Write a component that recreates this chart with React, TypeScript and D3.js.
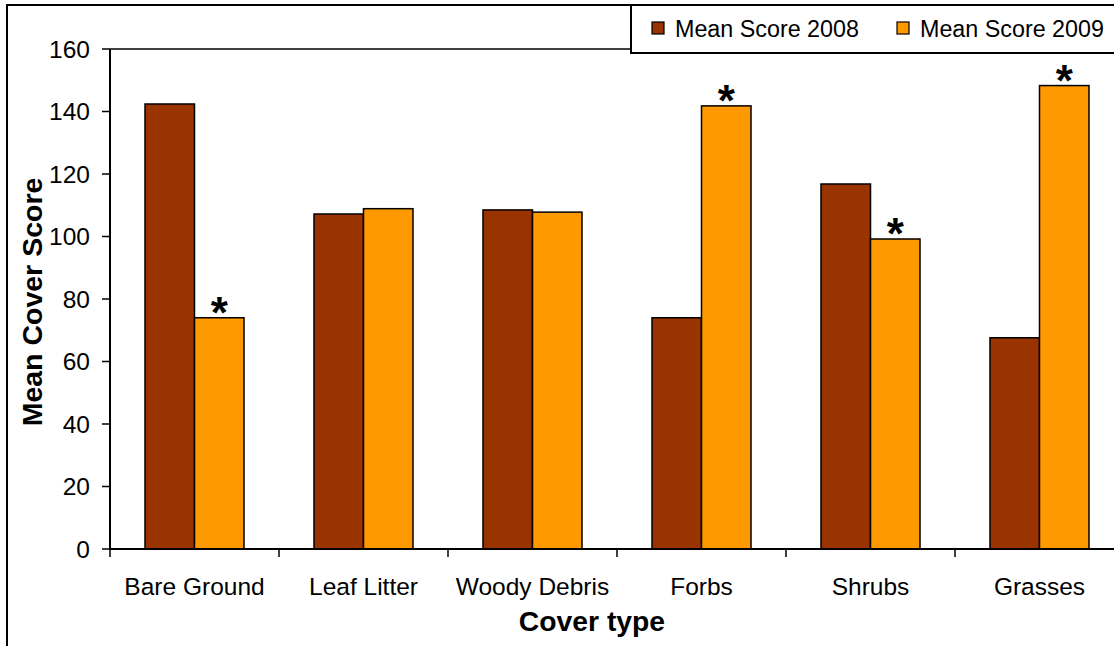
import React from "react";
import * as d3 from "d3";

const categories = ["Bare Ground", "Leaf Litter", "Woody Debris", "Forbs", "Shrubs", "Grasses"];
const seriesNames = ["Mean Score 2008", "Mean Score 2009"];
const values2008 = [142.4, 107.2, 108.5, 74, 116.8, 67.6];
const values2009 = [74, 108.9, 107.8, 141.8, 99.2, 148.3];
const significant2009 = [true, false, false, true, true, true];
const yTicks = [0, 20, 40, 60, 80, 100, 120, 140, 160];
const colors = ["#993300", "#FF9900"];

const W = 1114;
const H = 646;
const font = "'Liberation Sans', Arial, sans-serif";

export default function App() {
  const left = 110;
  const top = 49;
  const bottom = 549;
  const step = 169;
  const right = left + step * categories.length;

  const x = d3.scaleBand<string>().domain(categories).range([left, right]).paddingInner(0).paddingOuter(0);
  const y = d3.scaleLinear().domain([0, 160]).range([bottom, top]);
  const barW = 49.5;
  const pad = (x.bandwidth() - 2 * barW) / 2;
  const series = [values2008, values2009];

  return (
    <svg width={W} height={H} style={{ position: "absolute", left: 0, top: 0, display: "block", background: "#fff" }}>
      {/* outer frame */}
      <rect x={7} y={5} width={W + 20} height={H + 20} fill="none" stroke="#000" strokeWidth={2} />
      {/* plot area border */}
      <line x1={left} x2={right} y1={top} y2={top} stroke="#000" strokeWidth={1.5} />
      <line x1={right} x2={right} y1={top} y2={bottom} stroke="#000" strokeWidth={1.5} />

      {/* bars */}
      {categories.map((c, i) =>
        series.map((vals, s) => {
          const bx = (x(c) as number) + pad + s * barW;
          const by = y(vals[i]);
          return (
            <rect key={c + s} x={bx} y={by} width={barW} height={bottom - by} fill={colors[s]} stroke="#000" strokeWidth={1.5} />
          );
        })
      )}

      {/* asterisks */}
      {categories.map((c, i) =>
        significant2009[i] ? (
          <text key={"ast" + c} x={(x(c) as number) + pad + barW * 1.5} y={y(values2009[i]) + 10} textAnchor="middle" fontFamily={font} fontWeight="bold" fontSize={44} fill="#000">
            *
          </text>
        ) : null
      )}

      {/* y axis */}
      <line x1={left} x2={left} y1={top} y2={bottom} stroke="#000" strokeWidth={2} />
      {yTicks.map((t) => (
        <g key={"yt" + t}>
          <line x1={left - 8} x2={left} y1={y(t)} y2={y(t)} stroke="#000" strokeWidth={1.5} />
          <text x={left - 20} y={y(t)} dy="0.36em" textAnchor="end" fontFamily={font} fontSize={24.5} fill="#000">
            {t}
          </text>
        </g>
      ))}

      {/* x axis */}
      <line x1={left} x2={right} y1={bottom} y2={bottom} stroke="#000" strokeWidth={2} />
      {d3.range(categories.length + 1).map((k) => (
        <line key={"xt" + k} x1={left + k * step} x2={left + k * step} y1={bottom} y2={bottom + 8} stroke="#000" strokeWidth={1.5} />
      ))}
      {categories.map((c) => (
        <text key={"xl" + c} x={(x(c) as number) + x.bandwidth() / 2} y={595} textAnchor="middle" fontFamily={font} fontSize={24.5} fill="#000">
          {c}
        </text>
      ))}

      {/* axis titles */}
      <text x={592} y={631} textAnchor="middle" fontFamily={font} fontWeight="bold" fontSize={28.3} fill="#000">
        Cover type
      </text>
      <text transform={`translate(42,302) rotate(-90)`} textAnchor="middle" fontFamily={font} fontWeight="bold" fontSize={28.5} fill="#000">
        Mean Cover Score
      </text>

      {/* legend */}
      <rect x={631} y={5} width={W} height={48} fill="#fff" stroke="#000" strokeWidth={2} />
      {seriesNames.map((n, s) => {
        const lx = s === 0 ? 652 : 897;
        return (
          <g key={"lg" + s}>
            <rect x={lx} y={22} width={12} height={12} fill={colors[s]} stroke="#000" strokeWidth={1.2} />
            <text x={lx + 23} y={29} dy="0.36em" fontFamily={font} fontSize={23.3} fill="#000">
              {n}
            </text>
          </g>
        );
      })}
    </svg>
  );
}
